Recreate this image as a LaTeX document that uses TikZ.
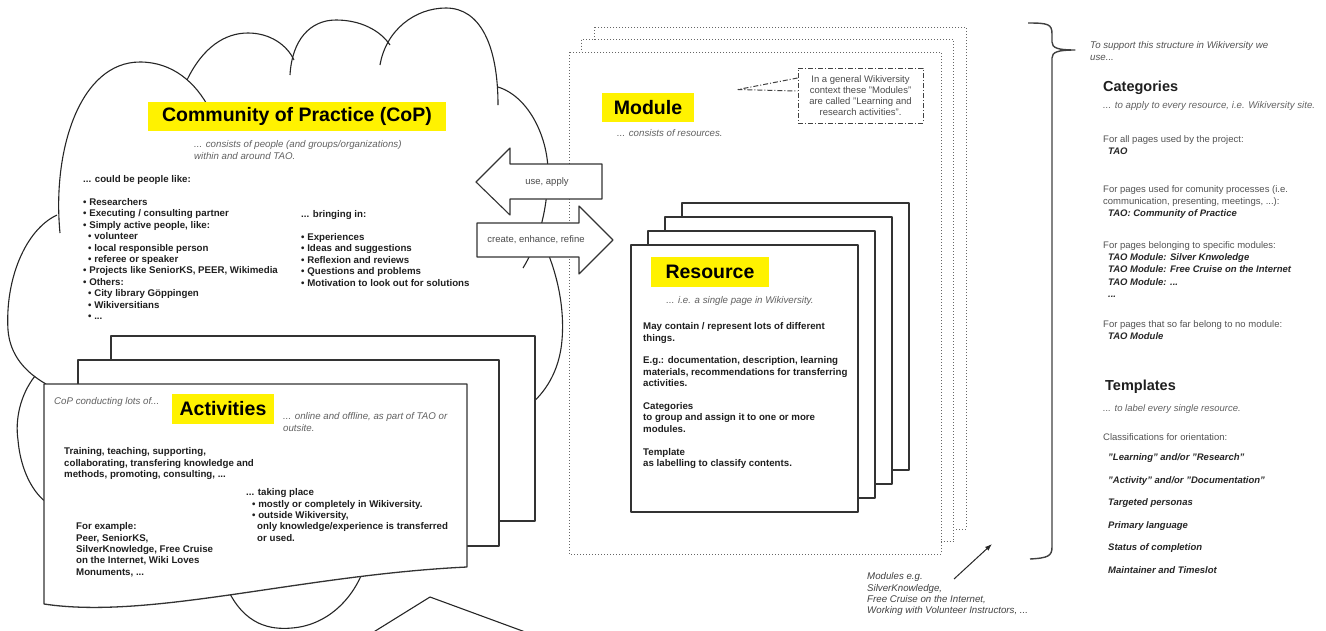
\documentclass[tikz,border=0pt]{standalone}
\usepackage{fontspec}
\setmainfont{Liberation Sans}
\usetikzlibrary{arrows.meta}
\newcommand{\catname}[1]{\hspace*{5pt}{\color{black!85}\bfseries\itshape #1}}

\begin{document}
\begin{tikzpicture}[x=1pt,y=-1pt,line join=round,
every node/.style={inner sep=0pt},
title/.style={fill=yellow,font=\fontsize{19.5}{22}\selectfont\bfseries},
txt/.style={anchor=north west,align=left,font=\fontsize{9.7}{11.4}\selectfont\bfseries,text=black!88},
note/.style={anchor=north west,align=left,font=\fontsize{9.7}{11.4}\selectfont\itshape,text=black!62},
plain/.style={anchor=north west,align=left,font=\fontsize{9.5}{12.2}\selectfont,text=black!68},
tag/.style={anchor=north west,font=\fontsize{9.5}{11.4}\selectfont\bfseries\itshape,text=black!85},
head/.style={anchor=north west,font=\fontsize{14.5}{17}\selectfont\bfseries,text=black!88},
card/.style={draw=black!80,fill=white,line width=1.3pt},
sheet/.style={draw=black!60,fill=white,line width=1pt,dash pattern=on 1pt off 2pt},
puff/.style={draw=black!85,line width=1.1pt}]
\useasboundingbox (0,0) rectangle (1326,630);

\foreach \d in {25,12.5,0}
\draw[sheet] (569+\d,52-\d) rectangle (941+\d,554-\d); % modules

\draw[puff] (60,233) .. controls (52,150) and (80,62) .. (140,62) .. controls (172,62) and (196,82) .. (210,110);
\draw[puff] (187,80) .. controls (203,47) and (225,33) .. (248,33) .. controls (270,33) and (287,45) .. (294,60);
\draw[puff] (290,75) .. controls (292,40) and (310,20) .. (336,20) .. controls (360,20) and (380,30) .. (390,45);
\draw[puff] (380,65) .. controls (386,30) and (415,8) .. (446,8) .. controls (480,8) and (498,45) .. (498,105);
\draw[puff] (498,87) .. controls (530,97) and (549,140) .. (548,175) .. controls (547,215) and (537,245) .. (523,268);
\draw[puff] (538,232) .. controls (556,265) and (565,305) .. (562,340) .. controls (560,365) and (550,388) .. (530,405);
\draw[puff] (57,215) .. controls (25,230) and (5,280) .. (8,330) .. controls (10,355) and (25,372) .. (46,384);
\draw[puff] (35,376) .. controls (20,395) and (15,420) .. (18,440) .. controls (20,465) and (30,490) .. (46,502);
\draw[puff] (228,590) .. controls (245,625) and (270,630) .. (292,628) .. controls (330,625) and (356,595) .. (365,565);
\draw[puff] (372,633) -- (430,597) -- (528,633);

\draw[card] (111,336) rectangle (535,521);
\draw[card] (78,360) rectangle (499,546);
\draw[card] (44,384) -- (467,384) -- (467,567) .. controls (300,575) and (150,620) .. (44,604) -- cycle;

\node[title,minimum width=298pt,minimum height=29pt] (cop) at (297,116.5) {Community of Practice (CoP)};
\node[note] (copsub) at (194,140.5) {... consists of people (and groups/organizations)\\within and around TAO.};
\node[txt] (copwho) at (83,175.5) {... could be people like:\\[11.4pt]
• Researchers\\• Executing / consulting partner\\• Simply active people, like:\\
\hspace*{5pt}• volunteer\\\hspace*{5pt}• local responsible person\\\hspace*{5pt}• referee or speaker\\
• Projects like SeniorKS, PEER, Wikimedia\\• Others:\\
\hspace*{5pt}• City library Göppingen\\\hspace*{5pt}• Wikiversitians\\\hspace*{5pt}• ...};
\node[txt] (copgain) at (301,210.5) {... bringing in:\\[11.4pt]
• Experiences\\• Ideas and suggestions\\• Reflexion and reviews\\• Questions and problems\\• Motivation to look out for solutions};

\node[title,minimum width=102pt,minimum height=30pt] (act) at (223,409) {Activities};
\node[note] (actlead) at (54,397.5) {CoP conducting lots of...};
\node[note] (actwhere) at (283,412.5) {... online and offline, as part of TAO or\\outsite.};
\node[txt] (actwhat) at (64,447.5) {Training, teaching, supporting,\\collaborating, transfering knowledge and\\methods, promoting, consulting, ...};
\node[txt] (actplace) at (246,488.5) {... taking place\\\hspace*{6pt}• mostly or completely in Wikiversity.\\\hspace*{6pt}• outside Wikiversity,\\
\hspace*{11pt}only knowledge/experience is transferred\\\hspace*{11pt}or used.};
\node[txt] (actex) at (76,522.5) {For example:\\Peer, SeniorKS,\\SilverKnowledge, Free Cruise\\on the Internet, Wiki Loves\\Monuments, ...};

\draw[card,line width=1.1pt] (476,182) -- (510,148) -- (510,164) -- (602,164) -- (602,199) -- (510,199) -- (510,215) -- cycle;
\node[font=\fontsize{9.5}{11}\selectfont,text=black!70] (use) at (547,182) {use, apply};
\draw[card,line width=1.1pt] (477,223) -- (579,223) -- (579,206) -- (613,240) -- (579,274) -- (579,257) -- (477,257) -- cycle;
\node[font=\fontsize{9.5}{11}\selectfont,text=black!70] (create) at (536,240) {create, enhance, refine};

\node[title,minimum width=92pt,minimum height=29pt] (module) at (648,107.5) {Module};
\node[note] (modsub) at (617,129.5) {... consists of resources.};
\node[draw=black!75,line width=1pt,dash pattern=on 5pt off 2pt on 1pt off 2pt,minimum width=125pt,minimum height=55pt,
align=center,font=\fontsize{9.5}{11}\selectfont,text=black!70] (aside) at (860.5,95.5)
{In a general Wikiversity\\context these "Modules"\\are called "Learning and\\research activities".};
\coordinate (asidetip) at (738,89.5);
\draw[black!75,line width=1pt,dash pattern=on 5pt off 2pt on 1pt off 2pt] ([yshift=17.5pt]aside.west) -- (asidetip) -- ([yshift=4.5pt]aside.west);

\foreach \k in {3,2,1,0}
\draw[card] (631+17*\k,245-14*\k) rectangle (858+17*\k,512-14*\k); % resources
\node[title,minimum width=118pt,minimum height=30pt] (res) at (710,272) {Resource};
\node[note,anchor=north] (ressub) at (740,296.5) {... i.e. a single page in Wikiversity.};
\node[txt] (resbody) at (643,322.5) {May contain / represent lots of different\\things.\\[11.4pt]
E.g.: documentation, description, learning\\materials, recommendations for transferring\\activities.\\[11.4pt]
Categories\\to group and assign it to one or more\\modules.\\[11.4pt]
Template\\as labelling to classify contents.};

\node[note,text=black!75] (examples) at (867,572.5) {Modules e.g.\\SilverKnowledge,\\Free Cruise on the Internet,\\Working with Volunteer Instructors, ...};
\coordinate (exfoot) at (954,579);
\coordinate (exhead) at (992,544);
\draw[-{Latex[length=7pt,width=5pt]},line width=1pt,black!85] (exfoot) -- (exhead);

\draw[line width=1.4pt,black!75] (1028,23) .. controls (1048,23) and (1052,24) .. (1052,34) -- (1052,42)
.. controls (1052,48) and (1058,50) .. (1075,50) .. controls (1058,50) and (1052,52) .. (1052,58)
-- (1052,547) .. controls (1052,556) and (1048,558) .. (1030,559); % brace

\node[note,text=black!68] (support) at (1090,41.5) {To support this structure in Wikiversity we\\use...};
\node[head] (categories) at (1103,81) {Categories};
\node[note] (catsub) at (1103,101.5) {... to apply to every resource, i.e. Wikiversity site.};
\node[plain] (catall) at (1103,135.5) {For all pages used by the project:\\\catname{TAO}};
\node[plain] (catcop) at (1103,185.5) {For pages used for comunity processes (i.e.\\communication, presenting, meetings, ...):\\\catname{TAO: Community of Practice}};
\node[plain] (catmod) at (1103,241.5) {For pages belonging to specific modules:\\\catname{TAO Module: Silver Knwoledge}\\
\catname{TAO Module: Free Cruise on the Internet}\\\catname{TAO Module: ...}\\\catname{...}};
\node[plain] (catnone) at (1103,320.5) {For pages that so far belong to no module:\\\catname{TAO Module}};

\node[head] (templates) at (1105,380) {Templates};
\node[note,font=\fontsize{9.5}{11.4}\selectfont\itshape] (tplsub) at (1103,404.5) {... to label every single resource.};
\node[plain] (tplclass) at (1103,433.5) {Classifications for orientation:};
\foreach \txt [count=\i from 0] in {{"Learning" and/or "Research"},{"Activity" and/or "Documentation"},
Targeted personas,Primary language,Status of completion,Maintainer and Timeslot}
\node[tag] (tpl\i) at (1108,453.5+22.5*\i) {\txt};
\end{tikzpicture}
\end{document}
